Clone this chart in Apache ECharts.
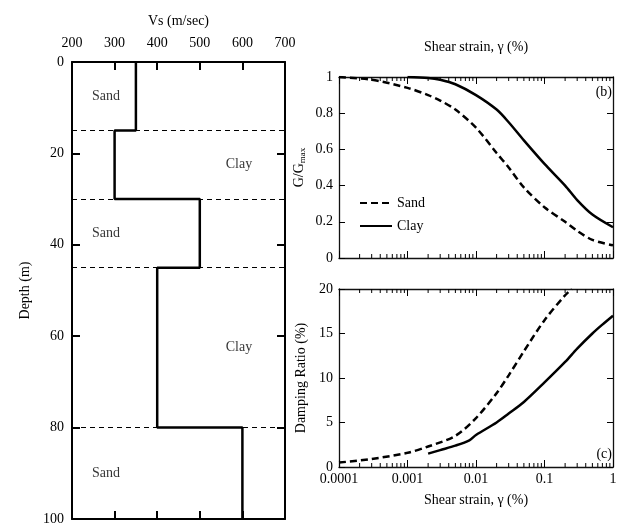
<!DOCTYPE html>
<html>
<head>
<meta charset="utf-8">
<script src="https://cdn.jsdelivr.net/npm/echarts@6/dist/echarts.min.js"></script>
<style>html,body{margin:0;padding:0;background:#fff}#c{width:620px;height:526px}</style>
</head>
<body>
<div id="c"></div>
<script>
// ---- Data ----
const depthTop = [0, 15, 30, 45, 80];
const depthBottom = [15, 30, 45, 80, 100];
const vsValues = [350, 300, 500, 400, 600];
const soilTypes = ['Sand', 'Clay', 'Sand', 'Clay', 'Sand'];

const vsTickLabels = ['200', '300', '400', '500', '600', '700'];
const depthTickLabels = ['0', '20', '40', '60', '80', '100'];
const strainTickLabels = ['0.0001', '0.001', '0.01', '0.1', '1'];

const sandStrainG = [0.0001, 0.0003, 0.001, 0.002, 0.003, 0.005, 0.01, 0.02, 0.03, 0.05, 0.1, 0.2, 0.3, 0.5, 1.0];
const sandG = [1.0, 0.985, 0.94, 0.90, 0.87, 0.82, 0.72, 0.58, 0.50, 0.39, 0.28, 0.20, 0.15, 0.10, 0.07];
const clayStrainG = [0.001, 0.002, 0.003, 0.005, 0.01, 0.02, 0.03, 0.05, 0.1, 0.2, 0.3, 0.5, 1.0];
const clayG = [1.0, 0.995, 0.985, 0.96, 0.90, 0.82, 0.75, 0.65, 0.52, 0.40, 0.32, 0.24, 0.17];

const sandStrainD = [0.0001, 0.0003, 0.001, 0.002, 0.005, 0.01, 0.02, 0.03, 0.05, 0.1, 0.2, 0.25];
const sandD = [0.5, 0.9, 1.6, 2.3, 3.5, 5.5, 8.3, 10.3, 13.0, 16.5, 19.3, 20.0];
const clayStrainD = [0.002, 0.003, 0.005, 0.008, 0.01, 0.02, 0.03, 0.05, 0.1, 0.2, 0.3, 0.5, 0.7, 1.0];
const clayD = [1.5, 1.9, 2.4, 3.0, 3.6, 5.0, 6.0, 7.3, 9.5, 11.8, 13.3, 15.0, 16.0, 17.0];

// ---- Build ----
const FONT = "'Liberation Serif', 'Times New Roman', serif";
const BLACK = '#000';
const zip = (a, b) => a.map((v, i) => [v, b[i]]);

const vsProfile = [];
vsValues.forEach((v, i) => { vsProfile.push([v, depthTop[i]]); vsProfile.push([v, depthBottom[i]]); });
const boundaries = depthTop.slice(1);
const soilLabelX = { Sand: 280, Clay: 592 };
const soilLabels = soilTypes.map((s, i) => ({ name: s, value: [soilLabelX[s], (depthTop[i] + depthBottom[i]) / 2] }));

const minorStrains = [];
for (let e = -4; e < 0; e++) for (let k = 2; k <= 9; k++) minorStrains.push(k * Math.pow(10, e));

const lbl = { fontSize: 14, color: BLACK, fontFamily: FONT };

function tickRenderer(yLow, yHigh, len) {
  return function (params, api) {
    const v = api.value(0);
    const a = api.coord([v, yLow]);
    const b = api.coord([v, yHigh]);
    const st = { stroke: BLACK, lineWidth: 1 };
    return { type: 'group', children: [
      { type: 'line', shape: { x1: a[0], y1: a[1], x2: a[0], y2: a[1] - len }, style: st },
      { type: 'line', shape: { x1: b[0], y1: b[1], x2: b[0], y2: b[1] + len }, style: st }
    ] };
  };
}

function logAxis(grid, pos, extra) {
  return Object.assign({
    gridIndex: grid, type: 'log', logBase: 10, min: 0.0001, max: 1, position: pos,
    axisLine: { show: true, onZero: false, lineStyle: { color: '#111', width: 1.3 } },
    axisTick: { inside: true, length: 7, lineStyle: { color: BLACK, width: 1 } },
    axisLabel: { show: false }, splitLine: { show: false }
  }, extra || {});
}
function linAxis(grid, pos, min, max, interval, extra) {
  return Object.assign({
    gridIndex: grid, type: 'value', min: min, max: max, interval: interval, position: pos,
    axisLine: { show: true, onZero: false, lineStyle: { color: '#111', width: 1.3 } },
    axisTick: { inside: true, length: 6, lineStyle: { color: BLACK, width: 1 } },
    axisLabel: { show: false }, splitLine: { show: false }
  }, extra || {});
}

const leftLine = { show: true, onZero: false, lineStyle: { color: BLACK, width: 2 } };
const leftTick = { inside: true, length: 8, lineStyle: { color: BLACK, width: 2 } };

const option = {
  animation: false,
  textStyle: { fontFamily: FONT },
  grid: [
    { left: 72, top: 62, width: 213, height: 458 },
    { left: 339, top: 77, width: 274, height: 181 },
    { left: 339, top: 289, width: 274, height: 178 }
  ],
  xAxis: [
    { gridIndex: 0, type: 'value', position: 'top', min: 200, max: 700, interval: 100,
      name: 'Vs (m/sec)', nameLocation: 'middle', nameGap: 34, nameTextStyle: lbl,
      axisLine: leftLine, axisTick: leftTick,
      axisLabel: Object.assign({ margin: 12, formatter: (v) => vsTickLabels[Math.round((v - 200) / 100)] }, lbl),
      splitLine: { show: false } },
    { gridIndex: 0, type: 'value', position: 'bottom', min: 200, max: 700, interval: 100,
      axisLine: leftLine, axisTick: leftTick, axisLabel: { show: false }, splitLine: { show: false } },
    logAxis(1, 'bottom'),
    logAxis(1, 'top', { name: 'Shear strain, γ (%)', nameLocation: 'middle', nameGap: 23, nameTextStyle: lbl }),
    logAxis(2, 'bottom', { name: 'Shear strain, γ (%)', nameLocation: 'middle', nameGap: 26, nameTextStyle: lbl,
      axisLabel: Object.assign({ show: true, margin: 5, formatter: (v) => strainTickLabels[Math.round(Math.log10(v)) + 4] }, lbl) }),
    logAxis(2, 'top')
  ],
  yAxis: [
    { gridIndex: 0, type: 'value', inverse: true, position: 'left', min: 0, max: 100, interval: 20,
      name: 'Depth (m)', nameLocation: 'middle', nameGap: 40, nameTextStyle: lbl,
      axisLine: leftLine, axisTick: leftTick,
      axisLabel: Object.assign({ margin: 8, formatter: (v) => depthTickLabels[Math.round(v / 20)] }, lbl),
      splitLine: { show: false } },
    { gridIndex: 0, type: 'value', inverse: true, position: 'right', min: 0, max: 100, interval: 20,
      axisLine: leftLine, axisTick: leftTick, axisLabel: { show: false }, splitLine: { show: false } },
    linAxis(1, 'left', 0, 1, 0.2, {
      name: '{m|G/G}{s|max}', nameLocation: 'middle', nameGap: 32,
      nameTextStyle: Object.assign({ rich: { m: { fontSize: 14, fontFamily: FONT, color: BLACK }, s: { fontSize: 9, fontFamily: FONT, color: BLACK, padding: [6, 0, 0, 0] } } }, lbl),
      axisLabel: Object.assign({ show: true, margin: 6 }, lbl) }),
    linAxis(1, 'right', 0, 1, 0.2),
    linAxis(2, 'left', 0, 20, 5, {
      name: 'Damping Ratio (%)', nameLocation: 'middle', nameGap: 31, nameTextStyle: lbl,
      axisLabel: Object.assign({ show: true, margin: 6 }, lbl) }),
    linAxis(2, 'right', 0, 20, 5)
  ],
  legend: {
    left: 354, top: 191, orient: 'vertical', itemWidth: 32, itemHeight: 12, itemGap: 9,
    data: ['Sand', 'Clay'], textStyle: lbl, selectedMode: false,
    itemStyle: { opacity: 0 }
  },
  graphic: [
    { type: 'text', right: 8, top: 85, style: { text: '(b)', font: '14px ' + FONT, fill: BLACK } },
    { type: 'text', right: 8, top: 447, style: { text: '(c)', font: '14px ' + FONT, fill: BLACK } }
  ],
  series: [
    { type: 'line', xAxisIndex: 0, yAxisIndex: 0, data: vsProfile, symbol: 'none', silent: true,
      lineStyle: { color: BLACK, width: 2.5 },
      markLine: { silent: true, symbol: ['none', 'none'], label: { show: false },
        lineStyle: { color: BLACK, width: 1, type: [5, 4] },
        data: boundaries.map((d) => ({ yAxis: d })) } },
    { type: 'scatter', xAxisIndex: 0, yAxisIndex: 0, data: soilLabels, symbolSize: 0, silent: true,
      label: Object.assign({ show: true, position: 'inside', formatter: '{b}' }, lbl) },
    { name: 'Sand', type: 'line', xAxisIndex: 2, yAxisIndex: 2, data: zip(sandStrainG, sandG), symbol: 'none', smooth: 0.3,
      lineStyle: { color: BLACK, width: 2.5, type: [7, 4] }, itemStyle: { color: BLACK } },
    { name: 'Clay', type: 'line', xAxisIndex: 2, yAxisIndex: 2, data: zip(clayStrainG, clayG), symbol: 'none', smooth: 0.3,
      lineStyle: { color: BLACK, width: 2.5 }, itemStyle: { color: BLACK } },
    { name: 'Sand', type: 'line', xAxisIndex: 4, yAxisIndex: 4, data: zip(sandStrainD, sandD), symbol: 'none', smooth: 0.3,
      lineStyle: { color: BLACK, width: 2.5, type: [7, 4] }, itemStyle: { color: BLACK } },
    { name: 'Clay', type: 'line', xAxisIndex: 4, yAxisIndex: 4, data: zip(clayStrainD, clayD), symbol: 'none', smooth: 0.3,
      lineStyle: { color: BLACK, width: 2.5 }, itemStyle: { color: BLACK } },
    { type: 'custom', xAxisIndex: 2, yAxisIndex: 2, data: minorStrains.map((v) => [v, 0]), silent: true,
      renderItem: tickRenderer(0, 1, 4), clip: false },
    { type: 'custom', xAxisIndex: 4, yAxisIndex: 4, data: minorStrains.map((v) => [v, 0]), silent: true,
      renderItem: tickRenderer(0, 20, 4), clip: false }
  ]
};

const chart = echarts.init(document.getElementById('c'), null, { renderer: 'canvas' });
chart.setOption(option);
</script>
</body>
</html>
